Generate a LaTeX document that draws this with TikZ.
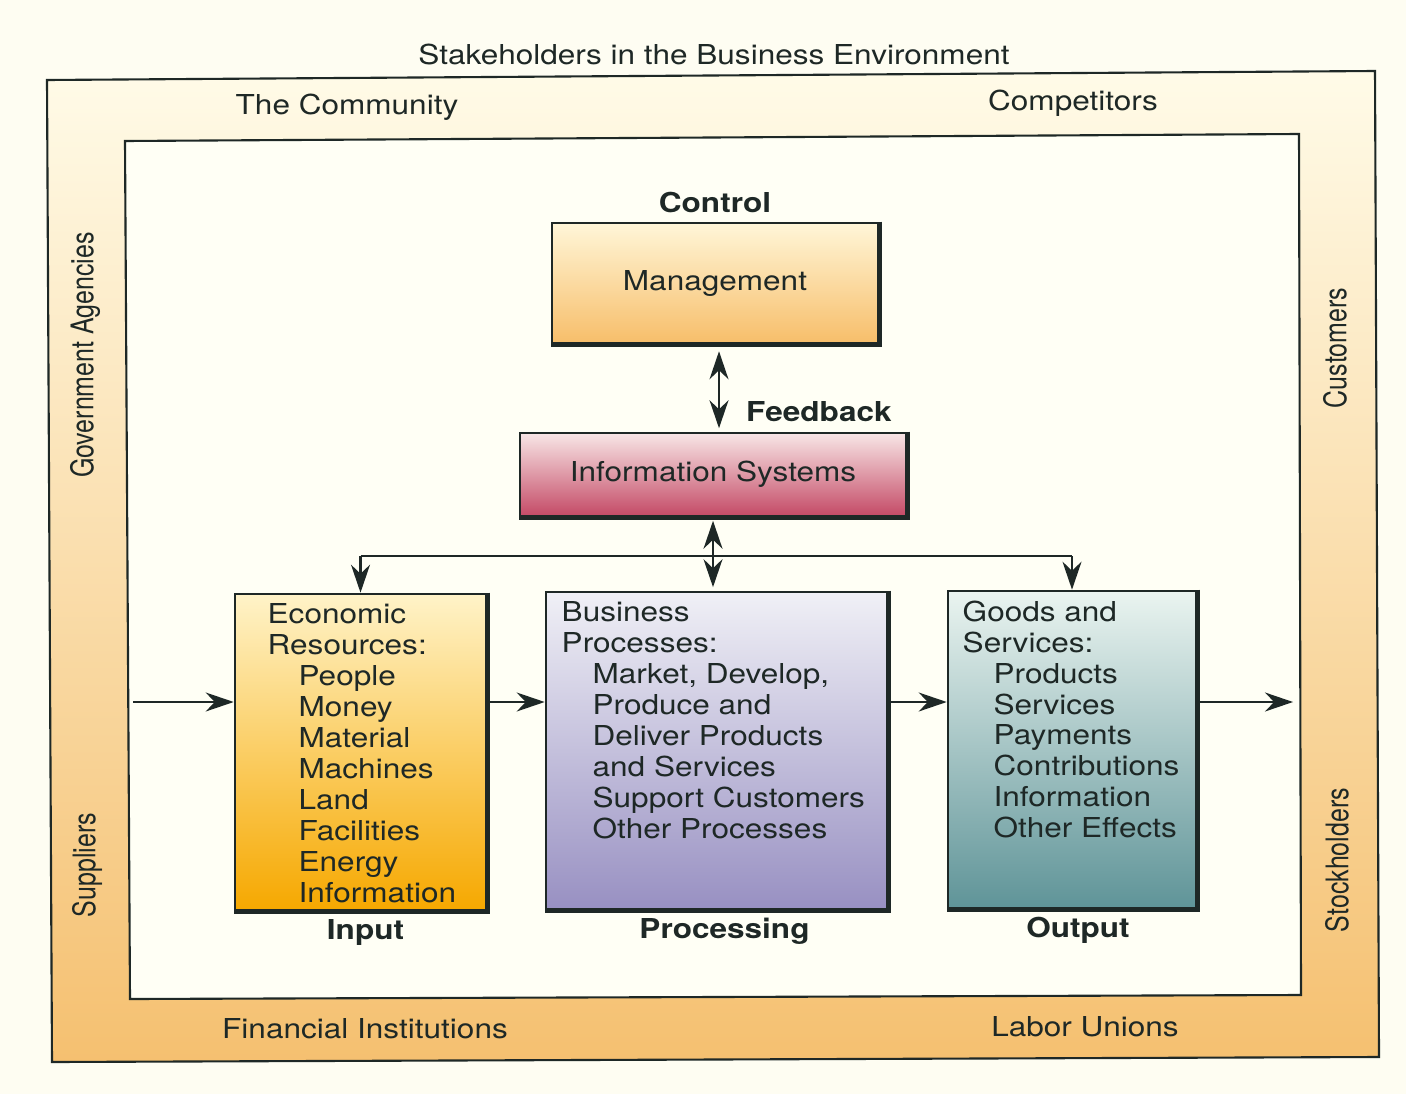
\documentclass[tikz,border=0pt]{standalone}
\usepackage{fontspec}
\setmainfont{TeX Gyre Heros}[FakeStretch=1.15]
\newfontfamily\sidefont{TeX Gyre Heros}
\usetikzlibrary{arrows.meta}
\usetikzlibrary{positioning}
\usetikzlibrary{calc}

\definecolor{paper}{RGB}{254,253,242}
\definecolor{ink}{RGB}{30,40,38}
\definecolor{bandtop}{RGB}{255,251,232}
\definecolor{bandmid}{RGB}{250,222,172}
\definecolor{bandbot}{RGB}{245,192,112}
\definecolor{inner}{RGB}{255,255,245}
\definecolor{mgmttop}{RGB}{255,246,216}
\definecolor{mgmtbot}{RGB}{247,190,106}
\definecolor{istop}{RGB}{248,230,230}
\definecolor{isbot}{RGB}{196,74,102}
\definecolor{intop}{RGB}{255,243,200}
\definecolor{inbot}{RGB}{246,168,0}
\definecolor{proctop}{RGB}{240,240,246}
\definecolor{procbot}{RGB}{152,144,194}
\definecolor{outtop}{RGB}{234,244,240}
\definecolor{outbot}{RGB}{95,148,152}

\newcommand{\subi}{\hspace*{8.8pt}}
\newcommand{\sidetext}[1]{\scalebox{1}[1.25]{\sidefont\fontsize{7.1}{8}\selectfont #1}}

\tikzset{
	box/.style={draw=ink, line width=0.7pt, inner sep=0pt},
	edge/.style={draw=ink, line width=1.5pt},
	flow/.style={draw=ink, line width=0.6pt, -{Stealth[length=2.8mm,width=1.9mm]}},
	twoway/.style={draw=ink, line width=0.6pt,
		{Stealth[length=2.8mm,width=1.9mm]}-{Stealth[length=2.8mm,width=1.9mm]}},
	lab/.style={font=\fontsize{7.8}{8.8}\selectfont\bfseries, inner sep=1pt},
	listtext/.style={align=left, anchor=north west, inner sep=0pt},
	side/.style={rotate=90, inner sep=0pt}
}

\begin{document}
\begin{tikzpicture}[x=0.01cm, y=-0.01cm, font=\fontsize{7.8}{8.8}\selectfont, text=ink]
		\useasboundingbox (0,0) rectangle (1406,1094);
		\fill[paper] (0,0) rectangle (1406,1094);
		%% The stakeholder band and the business area
		\shade[top color=bandtop, middle color=bandmid, bottom color=bandbot]
			(47,80) -- (1375,71) -- (1379,1057) -- (52,1062) -- cycle;
		\draw[ink, line width=0.6pt]
			(47,80) -- (1375,71) -- (1379,1057) -- (52,1062) -- cycle;
		\filldraw[fill=inner, draw=ink, line width=0.6pt]
			(125,141) -- (1299,134) -- (1301,995) -- (130,999) -- cycle;
		%% Stakeholders
		\node (title) at (714,55) {Stakeholders in the Business Environment};
		\node (comm) at (347,107) {The Community};
		\node (comp) at (1073,103) {Competitors};
		\node[side] (gov) at (85,355) {\sidetext{Government Agencies}};
		\node[side] (supp) at (87,865) {\sidetext{Suppliers}};
		\node[side] (cust) at (1335,348) {\sidetext{Customers}};
		\node[side] (stock) at (1337,860) {\sidetext{Stockholders}};
		\node (fin) at (365,1029) {Financial Institutions};
		\node (labor) at (1085,1027) {Labor Unions};
		%% Control and information
		\node[box, minimum width=3.26cm, minimum height=1.20cm,
			top color=mgmttop, bottom color=mgmtbot] (mgmt) at (715,283) {Management};
		\node[box, minimum width=3.86cm, minimum height=0.83cm,
			top color=istop, bottom color=isbot] (is) at (713,474.5) {Information Systems};
		\node[lab, above=0.5mm of mgmt] (ctrl) {Control};
		\node[lab, anchor=west] (fb) at (742,412) {Feedback};
		%% The three stages
		\node[box, minimum width=2.51cm, minimum height=3.16cm,
			top color=intop, bottom color=inbot] (in) at (360.5,752) {};
		\node[box, minimum width=3.41cm, minimum height=3.17cm,
			top color=proctop, bottom color=procbot] (proc) at (716.5,750.5) {};
		\node[box, minimum width=2.48cm, minimum height=3.17cm,
			top color=outtop, bottom color=outbot] (out) at (1072,749.5) {};
		\draw[edge] (mgmt.north east) -- (mgmt.south east) -- (mgmt.south west);
		\draw[edge] (is.north east) -- (is.south east) -- (is.south west);
		\draw[edge] (in.north east) -- (in.south east) -- (in.south west);
		\draw[edge] (proc.north east) -- (proc.south east) -- (proc.south west);
		\draw[edge] (out.north east) -- (out.south east) -- (out.south west);
		\node[listtext] (intext) at (267,603) {Economic\\Resources:\\
			\subi People\\\subi Money\\\subi Material\\\subi Machines\\
			\subi Land\\\subi Facilities\\\subi Energy\\\subi Information};
		\node[listtext] (proctext) at (561,601) {Business\\Processes:\\
			\subi Market, Develop,\\\subi Produce and\\\subi Deliver Products\\
			\subi and Services\\\subi Support Customers\\\subi Other Processes};
		\node[listtext] (outtext) at (962,600) {Goods and\\Services:\\
			\subi Products\\\subi Services\\\subi Payments\\\subi Contributions\\
			\subi Information\\\subi Other Effects};
		\node[lab, below=0.4mm of in, xshift=0.05cm] (inlab) {Input};
		\node[lab, below=0.4mm of proc, xshift=0.08cm] (proclab) {Processing};
		\node[lab, below=0.4mm of out, xshift=0.06cm] (outlab) {Output};
		%% Connectors
		\coordinate (src) at (133,702);  % from the suppliers
		\coordinate (sink) at (1293,702);% to the customers
		\coordinate (bus) at (0,556);
		\draw[twoway, shorten <=2pt, shorten >=1pt] ([xshift=0.04cm]mgmt.south) -- ([xshift=0.04cm]mgmt.south |- is.north);
		\draw[twoway, shorten <=1pt, shorten >=1pt] (is.south) -- (is.south |- proc.north);
		\draw[draw=ink, line width=0.6pt] (in.north |- bus) -- (out.north |- bus);
		\draw[flow] (in.north |- bus) -- (in.north);
		\draw[flow] (out.north |- bus) -- (out.north);
		\draw[flow] (src) -- (src -| in.west);
		\draw[flow] (in.east |- src) -- (proc.west |- src);
		\draw[flow] (proc.east |- src) -- (out.west |- src);
		\draw[flow] (out.east |- src) -- (sink);
	\end{tikzpicture}
\end{document}
